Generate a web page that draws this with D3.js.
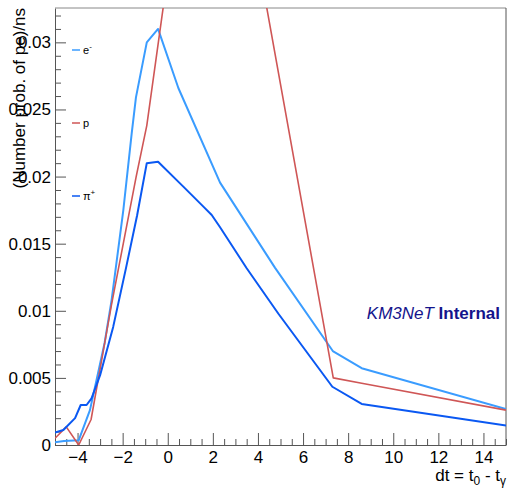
<!DOCTYPE html>
<html>
<head>
<meta charset="utf-8">
<script src="https://cdn.jsdelivr.net/npm/d3@7"></script>
<style>
  body { margin: 0; background: #fff; }
  svg { display: block; font-family: "Liberation Sans", Arial, sans-serif; }
</style>
</head>
<body>
<div id="chart"></div>
<script>
// series
const xElectron = [-5, -4.6, -3.95, -3.45, -2.8, -2.49, -1.97, -1.6, -1.41, -0.93, -0.43, 0.47, 2.32, 4.76, 7.32, 8.6, 15];
const yElectron = [0.0002, 0.0003, 0.00035, 0.0026, 0.0076, 0.0108, 0.0175, 0.0232, 0.0259, 0.0300, 0.0310, 0.0266, 0.01955, 0.0132, 0.0070, 0.00572, 0.00268];

const xProton = [-5, -4.5, -3.95, -3.4, -2.5, -1.4, -0.93, 1.8, 7.34, 8.6, 15];
const yProton = [0.0005, 0.00135, 0.0, 0.0019, 0.0104, 0.0200, 0.0238, 0.0568, 0.0050, 0.0046, 0.0026];

const xPion = [-5, -4.63, -4.11, -3.86, -3.6, -3.38, -3.0, -2.42, -1.85, -1.36, -0.93, -0.43, 0.69, 1.58, 1.95, 2.32, 3.5, 4.9, 7.3, 8.6, 15];
const yPion = [0.00092, 0.00112, 0.0020, 0.00298, 0.00298, 0.00347, 0.0052, 0.0088, 0.0132, 0.0171, 0.0210, 0.0211, 0.01925, 0.01776, 0.01714, 0.01622, 0.01317, 0.0098, 0.00434, 0.00306, 0.00145];

const xTicks = [-4, -2, 0, 2, 4, 6, 8, 10, 12, 14];
const yTicks = [0, 0.005, 0.01, 0.015, 0.02, 0.025, 0.03];

const series = [
  { name: 'e', sup: '-', xs: xElectron, ys: yElectron, color: '#3a9cff', width: 2, legendY: 50 },
  { name: 'p', sup: '', xs: xProton, ys: yProton, color: '#cf5656', width: 1.6, legendY: 123 },
  { name: 'π', sup: '+', xs: xPion, ys: yPion, color: '#0a58f2', width: 2, legendY: 196 }
];

const w = 508, h = 488;
const margins = { left: 55, right: 2, top: 8, bottom: 43 };
const frameColor = '#555';

const svg = d3.select('#chart').append('svg')
  .attr('width', w)
  .attr('height', h);

const x = d3.scaleLinear()
  .domain([-5, 15])
  .range([margins.left, w - margins.right]);
const y = d3.scaleLinear()
  .domain([0, 0.03256])
  .range([h - margins.bottom, margins.top]);

svg.append('defs').append('clipPath')
  .attr('id', 'plot-clip')
  .append('rect')
  .attr('x', x.range()[0])
  .attr('y', y.range()[1])
  .attr('width', x.range()[1] - x.range()[0])
  .attr('height', y.range()[0] - y.range()[1]);

// minor ticks first, then major axes on top
const xMinor = d3.range(-5, 15.001, 0.5).filter(v => !xTicks.includes(v));
svg.append('g')
  .attr('class', 'x minor')
  .attr('transform', `translate(0, ${y(0)})`)
  .call(d3.axisTop(x).tickValues(xMinor).tickSize(6).tickFormat(''))
  .call(g => g.select('.domain').remove())
  .call(g => g.selectAll('line').attr('stroke', frameColor));

const yMinor = d3.range(0, 0.0326, 0.001).filter(v => Math.abs(Math.round(v / 0.005) * 0.005 - v) > 1e-6);
svg.append('g')
  .attr('class', 'y minor')
  .attr('transform', `translate(${x(-5)}, 0)`)
  .call(d3.axisRight(y).tickValues(yMinor).tickSize(6).tickFormat(''))
  .call(g => g.select('.domain').remove())
  .call(g => g.selectAll('line').attr('stroke', frameColor));

const xAxis = svg.append('g')
  .attr('class', 'x axis')
  .attr('transform', `translate(0, ${y(0)})`)
  .call(d3.axisBottom(x).tickValues(xTicks).tickSize(0).tickPadding(0)
    .tickFormat(d => d < 0 ? '\u2212' + Math.abs(d) : d));
xAxis.select('.domain').attr('stroke', frameColor);
xAxis.selectAll('.tick text')
  .attr('y', 18)
  .attr('dy', 0)
  .attr('font-size', 17)
  .attr('fill', '#000');
xAxis.selectAll('.tick')
  .append('line')
  .attr('y2', -12)
  .attr('stroke', frameColor);

const yAxis = svg.append('g')
  .attr('class', 'y axis')
  .attr('transform', `translate(${x(-5)}, 0)`)
  .call(d3.axisLeft(y).tickValues(yTicks).tickSize(0).tickPadding(4)
    .tickFormat(d => d === 0 ? '0' : d3.format('~g')(d)));
yAxis.select('.domain').attr('stroke', frameColor);
yAxis.selectAll('.tick text')
  .attr('font-size', 17)
  .attr('fill', '#000');
yAxis.selectAll('.tick')
  .append('line')
  .attr('x2', 11)
  .attr('stroke', frameColor);

// frame top / right
svg.append('line')
  .attr('x1', x(-5)).attr('x2', x(15))
  .attr('y1', y.range()[1]).attr('y2', y.range()[1])
  .attr('stroke', '#888');
svg.append('line')
  .attr('x1', x(15)).attr('x2', x(15))
  .attr('y1', y.range()[1]).attr('y2', y(0))
  .attr('stroke', frameColor);

// curves
const line = d3.line()
  .x(d => x(d[0]))
  .y(d => y(d[1]));

const curves = svg.append('g').attr('clip-path', 'url(#plot-clip)');
series.forEach(s => {
  curves.append('path')
    .datum(s.xs.map((v, i) => [v, s.ys[i]]))
    .attr('fill', 'none')
    .attr('stroke', s.color)
    .attr('stroke-width', s.width)
    .attr('stroke-linejoin', 'round')
    .attr('d', line);
});

// legend
const legend = svg.append('g').attr('class', 'legend');
series.forEach(s => {
  legend.append('line')
    .attr('x1', 72).attr('x2', 80)
    .attr('y1', s.legendY).attr('y2', s.legendY)
    .attr('stroke', s.color)
    .attr('stroke-width', 1.5);
  const t = legend.append('text')
    .attr('x', 83)
    .attr('y', s.legendY + 4)
    .attr('font-size', 11)
    .text(s.name);
  if (s.sup) {
    t.append('tspan')
      .attr('dy', -5)
      .attr('font-size', 8)
      .text(s.sup);
  }
});

// axis titles
const xTitle = svg.append('text')
  .attr('x', x(15))
  .attr('y', 481)
  .attr('text-anchor', 'end')
  .attr('font-size', 17);
xTitle.append('tspan').text('dt = t');
xTitle.append('tspan').attr('dy', 4).attr('font-size', 12).text('0');
xTitle.append('tspan').attr('dy', -4).text(' - t');
xTitle.append('tspan').attr('dy', 4).attr('font-size', 12).text('γ');

svg.append('text')
  .attr('transform', `translate(25, ${y.range()[1]}) rotate(-90)`)
  .attr('text-anchor', 'end')
  .attr('font-size', 17)
  .text('(Number prob. of pe)/ns');

// experiment label
const label = svg.append('text')
  .attr('x', 500)
  .attr('y', 319)
  .attr('text-anchor', 'end')
  .attr('font-size', 17)
  .attr('fill', '#14148c');
label.append('tspan').attr('font-style', 'italic').text('KM3NeT ');
label.append('tspan').attr('font-weight', 'bold').text('Internal');
</script>
</body>
</html>
